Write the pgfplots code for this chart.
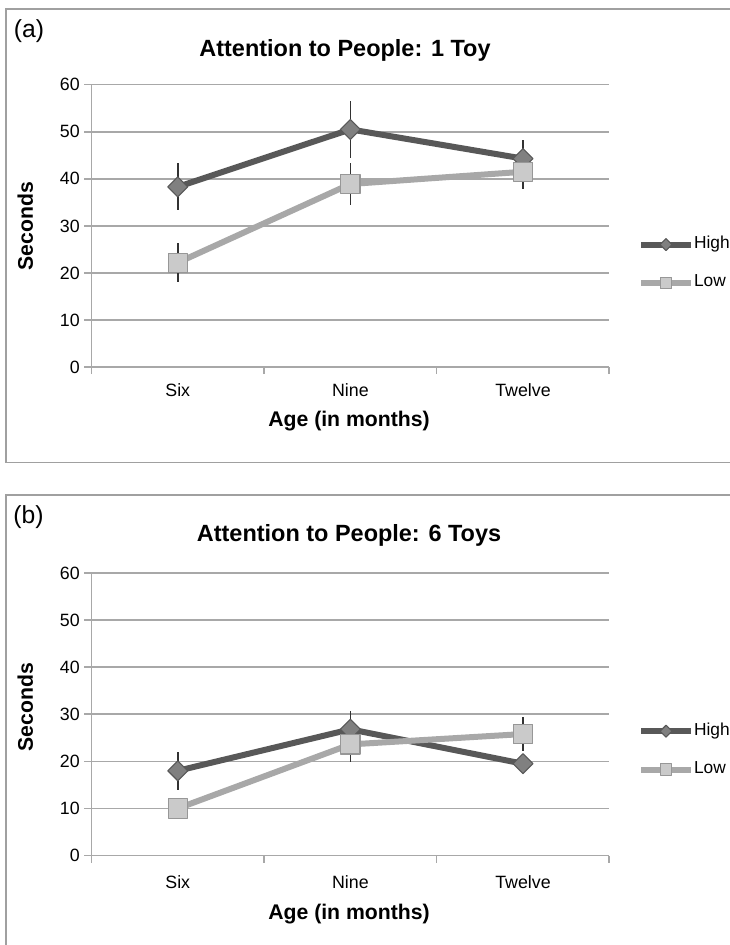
\documentclass[border=0pt]{standalone}
\usepackage{pgfplots}
\pgfplotsset{compat=1.18}
\usepackage{pgfplotstable}
\usepackage{fontspec}
\setmainfont{Liberation Sans}

\definecolor{hiline}{RGB}{88,88,88}
\definecolor{himark}{RGB}{128,128,128}
\definecolor{loline}{RGB}{168,168,168}
\definecolor{lomark}{RGB}{202,202,202}
\definecolor{gridc}{RGB}{168,168,168}
\definecolor{ebar}{RGB}{50,50,50}
\definecolor{boxc}{RGB}{160,160,160}

\newcommand\fsPanel{\fontsize{18.5}{22}\selectfont}
\newcommand\fsTitle{\fontsize{17.6}{21}\selectfont\bfseries}
\newcommand\fsLabel{\fontsize{15.9}{19}\selectfont\bfseries}
\newcommand\fsTick{\fontsize{13.35}{16}\selectfont}
\newcommand\fsLeg{\fontsize{13}{15}\selectfont}

\pgfplotstableread{
x hi hie lo loe
0 38.3 5.0 22.2 4.1
1 50.5 6.0 38.9 4.5
2 44.3 4.0 41.5 3.7
}\dataA
\pgfplotstableread{
x hi hie lo loe
0 18.0 4.0 10.0 1.5
1 26.8 3.9 23.6 3.7
2 19.5 2.0 25.8 3.7
}\dataB

\pgfplotsset{
  panel/.style={
    scale only axis,
    width=388.35pt, height=211.9pt,
    xmin=-0.5, xmax=2.5, ymin=0, ymax=60,
    ytick={0,10,...,60},
    xtick={0,1,2}, xticklabels={Six,Nine,Twelve},
    minor xtick={-0.5,0.5,1.5,2.5},
    axis lines=left,
    axis line style={-, gridc, line width=1.2pt},
    ymajorgrids,
    grid style={gridc, line width=1.2pt},
    tick align=outside,
    major tick length=5.25pt, minor tick length=5.25pt,
    tick style={gridc, line width=1.2pt},
    major x tick style={draw=none},
    ticklabel style={font=\fsTick},
    /pgf/number format/assume math mode=true,
    clip=false,
    legend style={draw=none, fill=none, inner sep=0pt, anchor=west,
      font=\fsLeg, row sep=17.8pt,
      nodes={inner sep=0pt, text height=8.5pt, text depth=2.5pt}},
    legend cell align=left,
    legend image code/.code={%
      \draw[##1, every mark/.append style={scale=0.6}, mark repeat=2, mark phase=2]
        plot coordinates {(0pt,0pt) (18.75pt,0pt) (37.5pt,0pt)};},
  },
  hist/.style={hiline, line width=4.5pt, line join=round,
    mark=square*, mark size=5.3pt,
    mark options={rotate=45, fill=himark, draw=hiline, line width=0.8pt},
    error bars/.cd, y dir=both, y explicit, error mark=none,
    error bar style={ebar, line width=1.1pt}},
  lost/.style={loline, line width=4.5pt, line join=round,
    mark=square*, mark size=7.2pt,
    mark options={fill=lomark, draw=loline!90!black, line width=0.8pt},
    error bars/.cd, y dir=both, y explicit, error mark=none,
    error bar style={ebar, line width=1.1pt}},
}

\begin{document}
\begin{tikzpicture}
\useasboundingbox (0,0) rectangle (546.75pt,708.75pt);
\begin{scope}[x=0.75pt,y=-0.75pt,shift={(0pt,708.75pt)}]
  \draw[boxc, line width=1.1pt] (6,9) rectangle (760,462.5);
  \draw[boxc, line width=1.1pt] (6,495) rectangle (760,980);
  \node[font=\fsPanel] at (29,31.5) {(a)};
  \node[font=\fsTitle, anchor=base] at (345,56.7) {Attention to People: 1 Toy};
  \node[font=\fsLabel, rotate=90] at (25.3,226) {Seconds};
  \node[font=\fsLabel, anchor=base] at (349,427) {Age (in months)};
  \node[font=\fsPanel] at (28.5,517) {(b)};
  \node[font=\fsTitle, anchor=base] at (349,541.7) {Attention to People: 6 Toys};
  \node[font=\fsLabel, rotate=90] at (25.3,707) {Seconds};
  \node[font=\fsLabel, anchor=base] at (349,919.5) {Age (in months)};
\end{scope}

\begin{axis}[panel, at={(68.6pt,433.35pt)}, anchor=south west,
  xticklabel style={anchor=base, yshift=-16.9pt},
  legend style={at={(1.055,0.366)}}]
  \addplot[hist] table[x=x, y=hi, y error=hie] \dataA;
  \addlegendentry{High}
  \addplot[lost] table[x=x, y=lo, y error=loe] \dataA;
  \addlegendentry{Low}
\end{axis}

\begin{axis}[panel, at={(68.6pt,67.1pt)}, anchor=south west,
  xticklabel style={anchor=base, yshift=-19.4pt},
  legend style={at={(1.055,0.372)}}]
  \addplot[hist] table[x=x, y=hi, y error=hie] \dataB;
  \addlegendentry{High}
  \addplot[lost] table[x=x, y=lo, y error=loe] \dataB;
  \addlegendentry{Low}
\end{axis}
\end{tikzpicture}
\end{document}
